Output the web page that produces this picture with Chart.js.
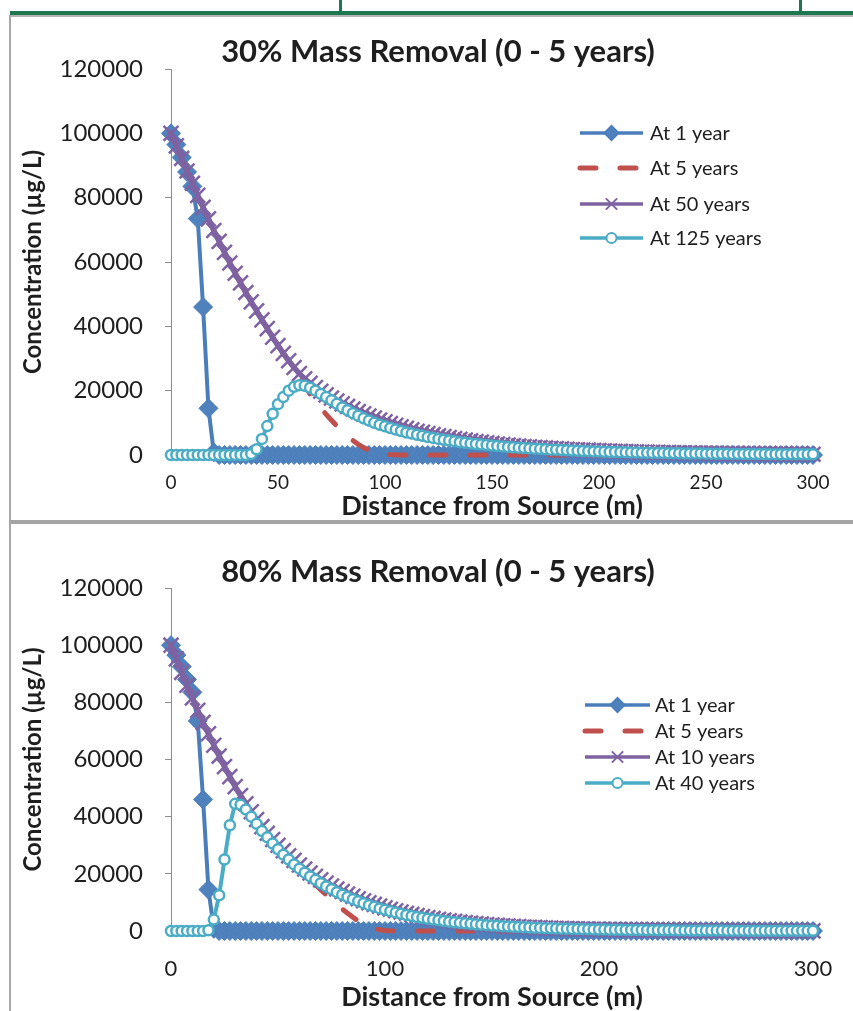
<!DOCTYPE html>
<html>
<head>
<meta charset="utf-8">
<title>Mass Removal</title>
<script src="https://cdn.jsdelivr.net/npm/chart.js"></script>
<style>
	html, body { margin: 0; padding: 0; background: #fff; }
	body { width: 853px; height: 1011px; overflow: hidden; position: relative; }
	.rule, canvas { position: absolute; }
</style>
</head>
<body>
<div class="rule" style="left:339px;top:0;width:3px;height:13px;background:#1d7852"></div>
<div class="rule" style="left:799px;top:0;width:3px;height:13px;background:#1d7852"></div>
<div class="rule" style="left:10px;top:11px;width:843px;height:4px;background:#1d7852"></div>
<div class="rule" style="left:10px;top:15px;width:843px;height:2px;background:#b4b4b4"></div>
<div class="rule" style="left:9px;top:15px;width:2px;height:996px;background:#a8a8a8"></div>
<div class="rule" style="left:10px;top:520px;width:843px;height:4px;background:#a4a4a4"></div>

<canvas id="top-chart" width="852" height="503" style="left:12px;top:17px"></canvas>
<canvas id="bottom-chart" width="852" height="485" style="left:12px;top:526px"></canvas>

<script>
// distance from source (m), one point every 2.5 m
const distances = [
	0, 2.5, 5, 7.5, 10, 12.5, 15, 17.5, 20, 22.5,
	25, 27.5, 30, 32.5, 35, 37.5, 40, 42.5, 45, 47.5,
	50, 52.5, 55, 57.5, 60, 62.5, 65, 67.5, 70, 72.5,
	75, 77.5, 80, 82.5, 85, 87.5, 90, 92.5, 95, 97.5,
	100, 102.5, 105, 107.5, 110, 112.5, 115, 117.5, 120, 122.5,
	125, 127.5, 130, 132.5, 135, 137.5, 140, 142.5, 145, 147.5,
	150, 152.5, 155, 157.5, 160, 162.5, 165, 167.5, 170, 172.5,
	175, 177.5, 180, 182.5, 185, 187.5, 190, 192.5, 195, 197.5,
	200, 202.5, 205, 207.5, 210, 212.5, 215, 217.5, 220, 222.5,
	225, 227.5, 230, 232.5, 235, 237.5, 240, 242.5, 245, 247.5,
	250, 252.5, 255, 257.5, 260, 262.5, 265, 267.5, 270, 272.5,
	275, 277.5, 280, 282.5, 285, 287.5, 290, 292.5, 295, 297.5,
	300
]

// ---- 30% mass removal ----
const topLabels = ['At 1 year', 'At 5 years', 'At 50 years', 'At 125 years']

const top1yr = [
	100000, 96500, 92500, 88000, 83500, 73500, 46000, 14500, 800, 0,
	0, 0, 0, 0, 0, 0, 0, 0, 0, 0,
	0, 0, 0, 0, 0, 0, 0, 0, 0, 0,
	0, 0, 0, 0, 0, 0, 0, 0, 0, 0,
	0, 0, 0, 0, 0, 0, 0, 0, 0, 0,
	0, 0, 0, 0, 0, 0, 0, 0, 0, 0,
	0, 0, 0, 0, 0, 0, 0, 0, 0, 0,
	0, 0, 0, 0, 0, 0, 0, 0, 0, 0,
	0, 0, 0, 0, 0, 0, 0, 0, 0, 0,
	0, 0, 0, 0, 0, 0, 0, 0, 0, 0,
	0, 0, 0, 0, 0, 0, 0, 0, 0, 0,
	0, 0, 0, 0, 0, 0, 0, 0, 0, 0,
	0
]
const top5yr = [
	100000, 96100, 92200, 88300, 84500, 80700, 77000, 73400, 69800, 66400,
	63000, 59700, 56500, 53500, 50500, 47600, 44800, 42000, 39300, 36600,
	34000, 31600, 29300, 27200, 24600, 21500, 19000, 16700, 14600, 12600,
	10800, 9000, 7400, 5900, 4500, 3300, 2300, 1500, 900, 500,
	250, 120, 50, 0, 0, 0, 0, 0, 0, 0,
	0, 0, 0, 0, 0, 0, 0, 0, 0, 0,
	0, 0, 0, 0, 0, 0, 0, 0, 0, 0,
	0, 0, 0, 0, 0, 0, 0, 0, 0, 0,
	0, 0, 0, 0, 0, 0, 0, 0, 0, 0,
	0, 0, 0, 0, 0, 0, 0, 0, 0, 0,
	0, 0, 0, 0, 0, 0, 0, 0, 0, 0,
	0, 0, 0, 0, 0, 0, 0, 0, 0, 0,
	0
]
const top50yr = [
	100000, 96100, 92200, 88300, 84500, 80700, 77000, 73400, 69800, 66400,
	63000, 59700, 56500, 53500, 50500, 47600, 44800, 42000, 39300, 36600,
	34000, 31600, 29300, 27200, 25300, 23700, 22300, 21000, 19800, 18700,
	17700, 16800, 15900, 15100, 14300, 13500, 12800, 12100, 11500, 10900,
	10300, 9750, 9200, 8750, 8300, 7850, 7400, 7050, 6700, 6350,
	6000, 5700, 5400, 5150, 4900, 4650, 4400, 4200, 4000, 3800,
	3600, 3420, 3250, 3100, 2950, 2800, 2650, 2520, 2400, 2300,
	2200, 2100, 2000, 1900, 1800, 1720, 1650, 1570, 1500, 1420,
	1350, 1290, 1230, 1170, 1120, 1070, 1020, 970, 930, 890,
	850, 810, 780, 740, 710, 680, 650, 620, 590, 560,
	540, 515, 490, 470, 450, 430, 410, 395, 380, 365,
	350, 335, 320, 305, 290, 280, 270, 260, 250, 240,
	230
]
const top125yr = [
	0, 0, 0, 0, 0, 0, 0, 0, 0, 0,
	0, 0, 0, 0, 0, 300, 1800, 5000, 9000, 12800,
	15800, 18000, 20000, 21200, 21700, 21500, 20900, 20000, 19000, 18000,
	17000, 15900, 14800, 13900, 13000, 12200, 11400, 10700, 10000, 9400,
	8900, 8400, 7900, 7450, 7000, 6650, 6300, 5950, 5600, 5300,
	5000, 4750, 4500, 4250, 4000, 3800, 3600, 3420, 3250, 3100,
	2950, 2800, 2650, 2520, 2400, 2270, 2150, 2050, 1950, 1850,
	1750, 1670, 1600, 1520, 1450, 1370, 1300, 1240, 1180, 1120,
	1070, 1020, 970, 920, 880, 840, 800, 760, 730, 700,
	660, 630, 600, 575, 550, 525, 500, 480, 460, 440,
	420, 405, 390, 375, 360, 345, 330, 320, 310, 295,
	285, 275, 265, 255, 245, 235, 225, 220, 210, 205,
	200
]

// ---- 80% mass removal ----
const bottomLabels = ['At 1 year', 'At 5 years', 'At 10 years', 'At 40 years']

const bottom1yr = [
	100000, 96500, 92500, 88000, 83500, 73500, 46000, 14500, 800, 0,
	0, 0, 0, 0, 0, 0, 0, 0, 0, 0,
	0, 0, 0, 0, 0, 0, 0, 0, 0, 0,
	0, 0, 0, 0, 0, 0, 0, 0, 0, 0,
	0, 0, 0, 0, 0, 0, 0, 0, 0, 0,
	0, 0, 0, 0, 0, 0, 0, 0, 0, 0,
	0, 0, 0, 0, 0, 0, 0, 0, 0, 0,
	0, 0, 0, 0, 0, 0, 0, 0, 0, 0,
	0, 0, 0, 0, 0, 0, 0, 0, 0, 0,
	0, 0, 0, 0, 0, 0, 0, 0, 0, 0,
	0, 0, 0, 0, 0, 0, 0, 0, 0, 0,
	0, 0, 0, 0, 0, 0, 0, 0, 0, 0,
	0
]
const bottom5yr = [
	100000, 95200, 90500, 86000, 81500, 77200, 73000, 69000, 65000, 61200,
	57500, 54000, 50500, 47400, 44500, 41700, 39000, 36500, 34200, 32000,
	30000, 28100, 26300, 24300, 22300, 20300, 18300, 16300, 14400, 12700,
	11000, 9300, 7700, 6200, 4800, 3500, 2400, 1500, 850, 400,
	180, 70, 20, 0, 0, 0, 0, 0, 0, 0,
	0, 0, 0, 0, 0, 0, 0, 0, 0, 0,
	0, 0, 0, 0, 0, 0, 0, 0, 0, 0,
	0, 0, 0, 0, 0, 0, 0, 0, 0, 0,
	0, 0, 0, 0, 0, 0, 0, 0, 0, 0,
	0, 0, 0, 0, 0, 0, 0, 0, 0, 0,
	0, 0, 0, 0, 0, 0, 0, 0, 0, 0,
	0, 0, 0, 0, 0, 0, 0, 0, 0, 0,
	0
]
const bottom10yr = [
	100000, 95200, 90500, 86000, 81500, 77200, 73000, 69000, 65000, 61200,
	57500, 54000, 50500, 47400, 44500, 41700, 39000, 36500, 34200, 32000,
	30000, 28100, 26300, 24700, 23100, 21700, 20300, 19100, 17900, 16800,
	15700, 14700, 13800, 12900, 12100, 11300, 10600, 9900, 9300, 8700,
	8100, 7600, 7100, 6650, 6200, 5800, 5400, 5050, 4700, 4400,
	4100, 3850, 3600, 3370, 3150, 2950, 2750, 2570, 2400, 2250,
	2100, 1970, 1850, 1730, 1620, 1520, 1420, 1330, 1250, 1170,
	1100, 1030, 960, 900, 850, 800, 750, 700, 660, 620,
	580, 545, 510, 480, 450, 425, 400, 375, 350, 330,
	310, 290, 275, 260, 245, 230, 215, 200, 190, 180,
	170, 160, 150, 140, 132, 125, 118, 111, 105, 99,
	93, 88, 83, 78, 74, 70, 66, 63, 60, 57,
	54
]
const bottom40yr = [
	0, 0, 0, 0, 0, 0, 0, 300, 4000, 12500,
	25000, 37000, 44500, 44200, 42500, 40000, 37500, 35000, 32800, 30600,
	28600, 26700, 25000, 23300, 21800, 20400, 19100, 17900, 16700, 15600,
	14600, 13600, 12700, 11900, 11100, 10400, 9700, 9050, 8450, 7900,
	7400, 6900, 6450, 6000, 5600, 5250, 4900, 4600, 4300, 4000,
	3750, 3500, 3270, 3060, 2860, 2680, 2500, 2340, 2190, 2050,
	1920, 1800, 1690, 1580, 1480, 1390, 1300, 1220, 1140, 1070,
	1000, 940, 880, 825, 775, 730, 685, 640, 600, 565,
	530, 500, 470, 440, 415, 390, 365, 345, 325, 305,
	285, 270, 255, 240, 225, 212, 200, 188, 177, 167,
	157, 148, 140, 132, 124, 117, 110, 104, 98, 92,
	87, 82, 77, 73, 69, 65, 61, 58, 55, 52,
	49
]

const yTicks = [0, 20000, 40000, 60000, 80000, 100000, 120000]

const FONT = 'Lato, "Open Sans", sans-serif'
const TEXT = '#1e1e1e'
const AXIS = '#8c8c8c'
const BLUE = '#4a7ebb', BLUE_FILL = '#4f81bd'
const RED = '#c0504d'
const PURPLE = '#7e62a1'
const CYAN = '#4bacc6'

// legend swatches are a bit smaller than the plotted markers
const legendRadius = [7, 0, 8, 5]
const legendLineWidth = [3.5, 5, 3.5, 3.5]

// title + legend, drawn on top of the plot (legend needs line + marker swatches)
const panelDecor = {
	id: 'panelDecor',
	afterDraw(chart, args, opts) {
		const ctx = chart.ctx
		ctx.save()
		ctx.fillStyle = TEXT
		ctx.textAlign = 'center'
		ctx.textBaseline = 'middle'
		ctx.font = 'bold 31px ' + FONT
		ctx.fillText(opts.title, opts.titleX, opts.titleY)

		ctx.font = '20px ' + FONT
		ctx.textAlign = 'left'
		chart.data.datasets.forEach(function (ds, i) {
			const y = opts.rows[i]
			ctx.save()
			ctx.strokeStyle = ds.borderColor
			ctx.lineWidth = legendLineWidth[i]
			ctx.lineCap = ds.borderCapStyle || 'butt'
			ctx.setLineDash(ds.borderDash || [])
			ctx.beginPath()
			ctx.moveTo(opts.lineFrom, y)
			ctx.lineTo(opts.lineTo, y)
			ctx.stroke()
			ctx.setLineDash([])
			if (legendRadius[i] > 0) {
				ctx.fillStyle = ds.pointBackgroundColor
				ctx.strokeStyle = ds.pointBorderColor
				ctx.lineWidth = 2
				Chart.helpers.drawPoint(ctx, {
					pointStyle: ds.pointStyle,
					radius: legendRadius[i],
					borderWidth: 2,
					rotation: 0
				}, (opts.lineFrom + opts.lineTo) / 2, y)
			}
			ctx.restore()
			ctx.fillText(ds.label, opts.textX, y + 1)
		})
		ctx.restore()
	}
}

function getLineConfig(p) {
	const common = { fill: false, tension: 0, clip: false, pointHoverRadius: 0, pointHitRadius: 0 }
	return {
		type: 'line',
		data: {
			labels: distances,
			datasets: [
				Object.assign({}, common, {
					label: p.labels[0], data: p.series[0], order: 3,
					borderColor: BLUE, borderWidth: 4,
					pointStyle: 'rectRot', pointRadius: 9.5,
					pointBackgroundColor: BLUE_FILL, pointBorderColor: BLUE, pointBorderWidth: 1
				}),
				Object.assign({}, common, {
					label: p.labels[1], data: p.series[1], order: 2,
					borderColor: RED, borderWidth: 5, borderDash: [16, 24], borderCapStyle: 'round',
					pointRadius: 0
				}),
				Object.assign({}, common, {
					label: p.labels[2], data: p.series[2], order: 1,
					borderColor: PURPLE, borderWidth: 5.5,
					pointStyle: 'crossRot', pointRadius: 10.5,
					pointBackgroundColor: PURPLE, pointBorderColor: PURPLE, pointBorderWidth: 2.5
				}),
				Object.assign({}, common, {
					label: p.labels[3], data: p.series[3], order: 0,
					borderColor: CYAN, borderWidth: 4,
					pointStyle: 'circle', pointRadius: 5,
					pointBackgroundColor: '#ffffff', pointBorderColor: CYAN, pointBorderWidth: 2.5
				})
			]
		},
		options: {
			responsive: false,
			animation: false,
			devicePixelRatio: 1,
			events: [],
			layout: { padding: { left: 0, right: 51, top: p.areaTop, bottom: 0 } },
			plugins: {
				legend: { display: false },
				tooltip: { enabled: false },
				title: { display: false },
				panelDecor: p.decor
			},
			scales: {
				x: {
					type: 'linear',
					min: 0,
					max: 300,
					afterFit: function (scale) { scale.height = p.xAxisHeight },
					grid: { display: false, drawTicks: false },
					border: { display: true, color: AXIS, width: 1 },
					ticks: {
						stepSize: p.xStep,
						maxRotation: 0,
						padding: p.xTickPad,
						color: TEXT,
						font: { family: FONT, size: p.xTickSize },
						callback: function (v) { return v }
					},
					title: {
						display: true,
						text: 'Distance from Source (m)',
						color: TEXT,
						font: { family: FONT, size: 27, weight: 'bold', lineHeight: 1.05 },
						padding: { top: 0, bottom: 0 }
					}
				},
				y: {
					min: 0,
					max: 120000,
					afterFit: function (scale) { scale.width = 159 },
					afterBuildTicks: function (scale) { scale.ticks = yTicks.map(v => ({ value: v })) },
					grid: { display: true, drawOnChartArea: false, drawTicks: true, tickLength: 6, color: AXIS, tickColor: AXIS },
					border: { display: true, color: AXIS, width: 1 },
					ticks: {
						padding: 22,
						color: TEXT,
						font: { family: FONT, size: 24 },
						callback: function (v) { return v }
					},
					title: {
						display: true,
						text: 'Concentration (µg/L)',
						color: TEXT,
						font: { family: FONT, size: 24, weight: 'bold' },
						padding: { top: 6.6, bottom: 0 }
					}
				}
			}
		},
		plugins: [panelDecor]
	}
}

;(function () {
	new Chart(document.getElementById('top-chart'), getLineConfig({
		labels: topLabels,
		series: [top1yr, top5yr, top50yr, top125yr],
		areaTop: 52,
		xAxisHeight: 65,
		xStep: 50,
		xTickSize: 19,
		xTickPad: 16,
		decor: {
			title: '30% Mass Removal (0 - 5 years)', titleX: 426, titleY: 35,
			rows: [116, 151, 187, 221], lineFrom: 568, lineTo: 631, textX: 638
		}
	}))

	new Chart(document.getElementById('bottom-chart'), getLineConfig({
		labels: bottomLabels,
		series: [bottom1yr, bottom5yr, bottom10yr, bottom40yr],
		areaTop: 62,
		xAxisHeight: 80,
		xStep: 100,
		xTickSize: 22,
		xTickPad: 25,
		decor: {
			title: '80% Mass Removal (0 - 5 years)', titleX: 426, titleY: 46,
			rows: [179, 205, 231, 257], lineFrom: 573, lineTo: 638, textX: 643
		}
	}))
})()
</script>
</body>
</html>
